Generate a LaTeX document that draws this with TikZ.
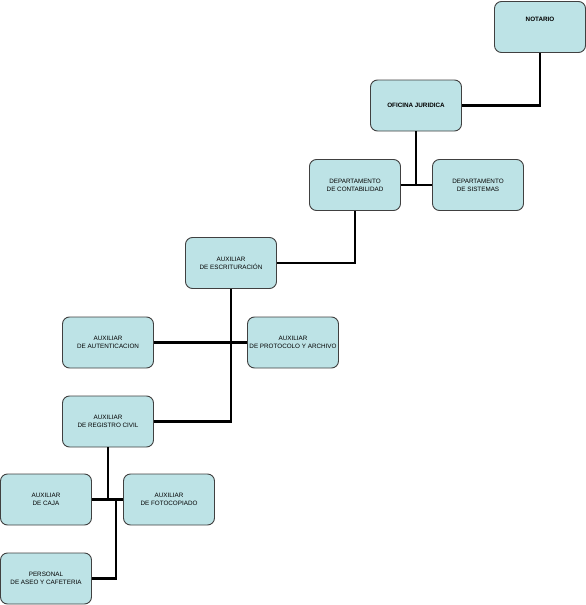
\documentclass[tikz,border=0pt]{standalone}
\usepackage{fontspec}
\setmainfont{Liberation Sans}
\begin{document}
\begin{tikzpicture}[x=1pt,y=-1pt,
  box/.style={draw=black!75, line width=0.9pt, fill={rgb,255:red,189;green,227;blue,230},
    rounded corners=7pt, minimum width=91pt, minimum height=51pt, inner sep=0pt,
    align=center, font=\fontsize{6.3}{8}\selectfont},
  conn/.style={line width=2.6pt, black}]
\useasboundingbox (0,0) rectangle (586,605);
\node[box] (not) at (540,27) {};
\node[font=\fontsize{6.3}{8}\selectfont\bfseries] (nott) at (540,19) {NOTARIO};
\node[box, font=\fontsize{6.3}{8}\selectfont\bfseries] (ofi) at (416,105.5) {OFICINA JURIDICA};
\node[box] (con) at (355,185) {DEPARTAMENTO\\DE CONTABILIDAD};
\node[box] (sis) at (478,185) {DEPARTAMENTO\\DE SISTEMAS};
\node[box] (esc) at (231,263) {AUXILIAR\\DE ESCRITURACIÓN};
\node[box] (aut) at (108,342.5) {AUXILIAR\\DE AUTENTICACION};
\node[box] (pro) at (293,342.5) {AUXILIAR\\DE PROTOCOLO Y ARCHIVO};
\node[box] (reg) at (108,421.5) {AUXILIAR\\DE REGISTRO CIVIL};
\node[box] (caj) at (46,499.5) {AUXILIAR\\DE CAJA};
\node[box] (fot) at (169,499.5) {AUXILIAR\\DE FOTOCOPIADO};
\node[box] (per) at (46,578.5) {PERSONAL\\DE ASEO Y CAFETERIA};
\draw[conn] (not.south) |- (ofi.east);
\draw[conn] (ofi.south) -- (ofi.south |- con.east);
\draw[conn] (con.east) -- (sis.west);
\draw[conn] (con.south) |- (esc.east);
\draw[conn] (esc.south) |- (reg.east);
\draw[conn] (aut.east) -- (pro.west);
\draw[conn] (reg.south) -- (reg.south |- caj.east);
\draw[conn] (caj.east) -- (fot.west);
\coordinate (j) at (116,499.5);
\draw[conn] (j) |- (per.east);
\end{tikzpicture}
\end{document}
